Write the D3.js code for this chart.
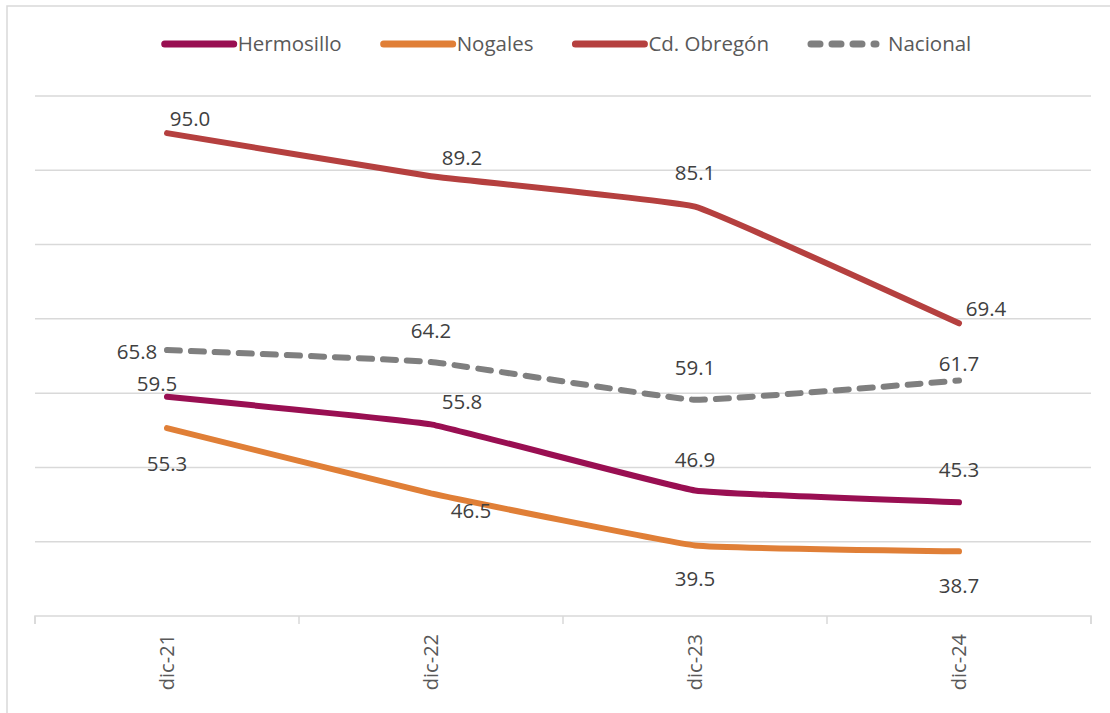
<!DOCTYPE html>
<html>
<head>
<meta charset="utf-8">
<script src="https://cdn.jsdelivr.net/npm/d3@7"></script>
<style>
  body { margin: 0; background: #fff; }
  text { font-family: "Open Sans", "Noto Sans", sans-serif; }
</style>
</head>
<body>
<svg width="1110" height="713"></svg>
<script>
// data
const categories = ["dic-21", "dic-22", "dic-23", "dic-24"];
const hermosillo = [59.5, 55.8, 46.9, 45.3];
const nogales = [55.3, 46.5, 39.5, 38.7];
const obregon = [95.0, 89.2, 85.1, 69.4];
const nacional = [65.8, 64.2, 59.1, 61.7];
const seriesNames = ["Hermosillo", "Nogales", "Cd. Obregón", "Nacional"];
const yTicks = [30, 40, 50, 60, 70, 80, 90, 100];

// label nudges (dx, dy from the point), by series
const labelNudge = {
  "Hermosillo": [[-10, -13], [31, -23], [0, -31], [0, -33]],
  "Nogales": [[0, 36], [40, 17], [0, 33], [0, 34]],
  "Cd. Obregón": [[23, -15], [31, -19], [0, -34], [27, -15]],
  "Nacional": [[-30, 2], [0, -31], [0, -32], [0, -17]]
};

const series = [
  { name: seriesNames[0], values: hermosillo, color: "#990F52", dash: null },
  { name: seriesNames[1], values: nogales, color: "#E07F37", dash: null },
  { name: seriesNames[2], values: obregon, color: "#B5403F", dash: null },
  { name: seriesNames[3], values: nacional, color: "#7F7F7F", dash: "13,11" }
];

const svg = d3.select("svg");

// frame (only left and top edges show)
svg.append("rect")
  .attr("x", 7).attr("y", 6)
  .attr("width", 1200).attr("height", 800)
  .attr("fill", "none")
  .attr("stroke", "#d9d9d9")
  .attr("stroke-width", 1.5);

const x = d3.scaleBand().domain(categories).range([35, 1091]);
const y = d3.scaleLinear().domain([30, 100]).range([616, 96]);

// gridlines
svg.append("g")
  .selectAll("line")
  .data(yTicks.filter(d => d > 30))
  .join("line")
  .attr("x1", 35).attr("x2", 1091)
  .attr("y1", d => y(d)).attr("y2", d => y(d))
  .attr("stroke", "#d9d9d9")
  .attr("stroke-width", 1.5);

// category axis
const xAxis = d3.axisBottom(x).tickSize(0).tickPadding(0);
const xAxisG = svg.append("g")
  .attr("transform", `translate(0,${y(30)})`)
  .call(xAxis);
xAxisG.select(".domain")
  .attr("d", `M35,8V0H1091V8`)
  .attr("stroke", "#d9d9d9")
  .attr("stroke-width", 1.5)
  .attr("fill", "none");
xAxisG.selectAll(".tick text")
  .attr("transform", "rotate(-90)")
  .attr("text-anchor", "end")
  .attr("x", -18)
  .attr("y", 0)
  .attr("dy", "0.35em")
  .attr("fill", "#595959")
  .style("font-size", "20px");
// boundary ticks between categories
xAxisG.selectAll(".sep")
  .data(d3.range(categories.length + 1))
  .join("line")
  .attr("class", "sep")
  .attr("x1", i => 35 + i * x.step())
  .attr("x2", i => 35 + i * x.step())
  .attr("y1", 0).attr("y2", 8)
  .attr("stroke", "#d9d9d9")
  .attr("stroke-width", 1.5);

const cx = i => x(categories[i]) + x.bandwidth() / 2;

const line = d3.line()
  .x((d, i) => cx(i))
  .y(d => y(d))
  .curve(d3.curveCardinal.tension(0.75));

// draw series so Hermosillo sits on top
const order = [2, 3, 1, 0];
order.forEach(k => {
  const s = series[k];
  svg.append("path")
    .datum(s.values)
    .attr("d", line)
    .attr("fill", "none")
    .attr("stroke", s.color)
    .attr("stroke-width", 6)
    .attr("stroke-linecap", "round")
    .attr("stroke-linejoin", "round")
    .attr("stroke-dasharray", s.dash);
});

// data labels
series.forEach(s => {
  svg.append("g")
    .selectAll("text")
    .data(s.values)
    .join("text")
    .attr("x", (d, i) => cx(i) + labelNudge[s.name][i][0])
    .attr("y", (d, i) => y(d) + labelNudge[s.name][i][1])
    .attr("text-anchor", "middle")
    .attr("dy", "0.36em")
    .attr("fill", "#404040")
    .style("font-size", "20.5px")
    .text(d => d.toFixed(1));
});

// legend
const legendG = svg.append("g").attr("transform", "translate(0,44)");
const items = legendG.selectAll("g")
  .data(series)
  .join("g");
items.append("line")
  .attr("x1", 4).attr("x2", d => d.dash ? 69 : 73)
  .attr("y1", 0).attr("y2", 0)
  .attr("stroke", d => d.color)
  .attr("stroke-width", 7)
  .attr("stroke-linecap", "round")
  .attr("stroke-dasharray", d => d.dash ? "9,12" : null);
items.append("text")
  .attr("x", d => d.dash ? 81 : 77)
  .attr("dy", "0.35em")
  .attr("fill", "#595959")
  .style("font-size", "20.5px")
  .text(d => d.name);

const widths = [];
items.each(function () {
  widths.push(d3.select(this).select("text").node().getComputedTextLength());
});
const gap = 38;
const total = d3.sum(widths, (w, i) => (series[i].dash ? 81 : 77) + w) + gap * (series.length - 1);
let offset = 566 - total / 2;
items.attr("transform", (d, i) => {
  const tx = offset;
  offset += (d.dash ? 81 : 77) + widths[i] + gap;
  return `translate(${tx},0)`;
});
</script>
</body>
</html>
